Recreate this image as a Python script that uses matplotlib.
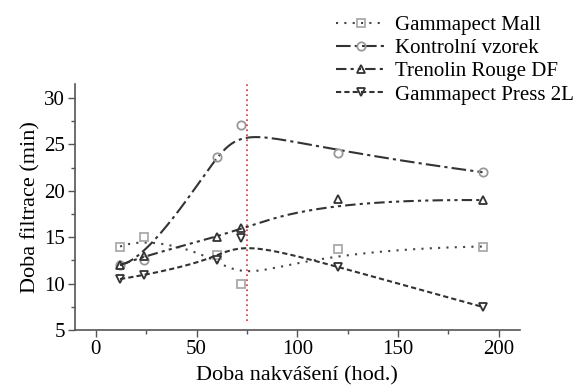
import numpy as np
from matplotlib import pyplot as plt
from matplotlib.ticker import MultipleLocator

# data
hours = [12, 24, 60, 72, 120, 192]
mall = [14.0, 15.0, 13.1, 10.0, 13.7, 14.0]
kontrol = [12.0, 12.5, 23.6, 27.1, 24.1, 22.0]
trenolin = [12.0, 13.0, 15.0, 16.0, 19.1, 19.0]
press = [10.5, 10.9, 12.5, 14.9, 11.8, 7.5]
labels = ["Gammapect Mall", "Kontrolní vzorek", "Trenolin Rouge DF", "Gammapect Press 2L"]
vline_x = 75


# basis function of a clamped B-spline (Cox - de Boor)
def basis(i, k, t, knots):
    if k == 0:
        last = (knots[i + 1] == knots[-1]) & (t == knots[-1])
        return np.where(((knots[i] <= t) & (t < knots[i + 1])) | last, 1.0, 0.0)
    out = np.zeros_like(t)
    d1 = knots[i + k] - knots[i]
    d2 = knots[i + k + 1] - knots[i + 1]
    if d1 > 0:
        out += (t - knots[i]) / d1 * basis(i, k - 1, t, knots)
    if d2 > 0:
        out += (knots[i + k + 1] - t) / d2 * basis(i + 1, k - 1, t, knots)
    return out


# smooth curve with the points as control points (like Origin "B-Spline")
def bspline(xs, ys, k=3, n=300):
    xs = np.asarray(xs, float)
    ys = np.asarray(ys, float)
    nc = len(xs)
    inner = np.linspace(0, 1, nc - k + 1)[1:-1]
    knots = np.concatenate([[0] * (k + 1), inner, [1] * (k + 1)])
    t = np.linspace(0, 1, n)
    bx = np.zeros(n)
    by = np.zeros(n)
    for i in range(nc):
        b = basis(i, k, t, knots)
        bx += b * xs[i]
        by += b * ys[i]
    return bx, by


plt.rcParams['font.family'] = ['Liberation Serif']

fig = plt.figure(figsize=(5.84, 3.87), dpi=100)
ax = fig.add_axes([0.128, 0.147, 0.762, 0.636])

series = [
    (mall, 's', (0, (1, 3)), '#444444', '#aaaaaa'),
    (kontrol, 'o', (0, (7, 2, 1.5, 2)), '#333333', '#999999'),
    (trenolin, '^', (0, (5, 2, 1.5, 2, 1.5, 2)), '#333333', '#333333'),
    (press, 'v', (0, (2.5, 1.5)), '#333333', '#333333'),
]

handles = []
for (ys, mk, ls, lc, mc), lab in zip(series, labels):
    cx, cy = bspline(hours, ys)
    ax.plot(cx, cy, linestyle=ls, color=lc, lw=1.5)
    ax.plot(hours, ys, linestyle='none', marker=mk, ms=6, mfc='none', mec=mc, mew=1.3)
    h, = ax.plot([], [], linestyle=ls, color=lc, lw=1.5, marker=mk, ms=6,
                 mfc='none', mec=mc, mew=1.3)
    handles.append(h)

ax.vlines(vline_x, 6, 31.5, colors='#e03030', linestyles=(0, (1, 2)), lw=1.2)

ax.set_xlim(-10.5, 210.5)
ax.set_ylim(5, 31.5)
ax.xaxis.set_major_locator(MultipleLocator(50))
ax.xaxis.set_minor_locator(MultipleLocator(25))
ax.yaxis.set_major_locator(MultipleLocator(5))
ax.yaxis.set_minor_locator(MultipleLocator(2.5))
ax.tick_params(which='major', direction='out', length=5, width=1, color='#555555',
               labelsize=15, pad=2)
ax.tick_params(which='minor', direction='out', length=3, width=1, color='#555555')
for s in ['top', 'right']:
    ax.spines[s].set_visible(False)
for s in ['left', 'bottom']:
    ax.spines[s].set_color('#555555')
    ax.spines[s].set_linewidth(1.2)

ax.set_xlabel("Doba nakvášení (hod.)", fontsize=16, labelpad=5)
ax.set_ylabel("Doba filtrace (min)", fontsize=16, labelpad=3)

fig.legend(handles=handles, labels=labels, loc='upper left', bbox_to_anchor=(0.548, 1.0),
           frameon=False, fontsize=15, handlelength=2.4, handletextpad=0.45,
           labelspacing=0.17, borderaxespad=0.35)

fig.savefig("out.png", dpi=100)
